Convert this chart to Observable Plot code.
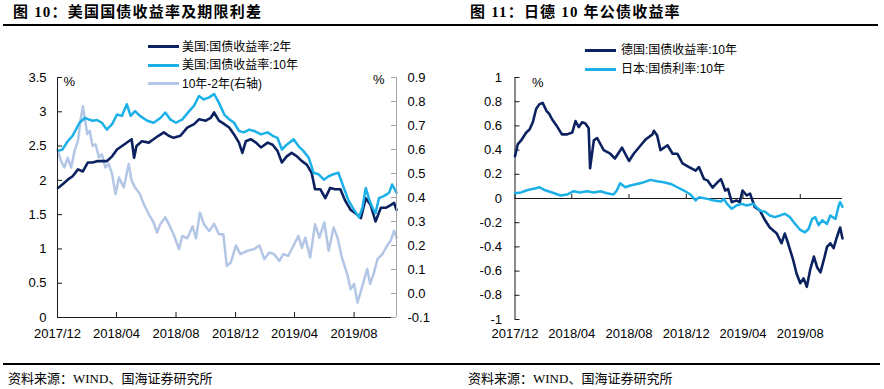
<!DOCTYPE html>
<html>
<head>
<meta charset="utf-8">
<script src="https://cdn.jsdelivr.net/npm/d3@7"></script>
<script src="https://cdn.jsdelivr.net/npm/@observablehq/plot@0.6"></script>
<style>
  html, body { margin: 0; padding: 0; background: #fff; }
  body { width: 884px; height: 389px; position: relative; overflow: hidden;
         font-family: "Liberation Sans", "Noto Sans CJK SC", sans-serif; color: #000; }
  .abs { position: absolute; }
  .title { position: absolute; font-family: "Liberation Serif", "Noto Sans CJK SC", serif; font-weight: bold;
           font-size: 15px; letter-spacing: 1.2px; line-height: 1; white-space: nowrap; color: #000; }
  .hr { position: absolute; height: 2px; background: #000; }
  .src { position: absolute; font-family: "Liberation Serif", "Noto Sans CJK SC", serif; font-size: 13px;
         line-height: 1; white-space: nowrap; color: #000; }
  .legline { position: absolute; height: 3px; width: 31px; }
  .legtext { position: absolute; font-size: 12px; line-height: 1; white-space: nowrap; color: #000;
             font-family: "Liberation Sans", "Noto Sans CJK SC", sans-serif; transform: translateY(-50%); }
</style>
</head>
<body>
<div id="c1" class="abs" style="left:0;top:0"></div>
<div id="c2" class="abs" style="left:440px;top:0"></div>

<div class="title" style="left:13px;top:5px">图 10：美国国债收益率及期限利差</div>
<div class="title" style="left:470px;top:5px">图 11：日德 10 年公债收益率</div>
<div class="hr" style="left:3px;top:24px;width:875px"></div>

<div class="legline" style="left:148px;top:45px;background:#0c2260"></div>
<div class="legtext" style="left:182px;top:46.5px">美国:国债收益率:2年</div>
<div class="legline" style="left:148px;top:63.5px;background:#1cb0e8"></div>
<div class="legtext" style="left:182px;top:65px">美国:国债收益率:10年</div>
<div class="legline" style="left:148px;top:82px;background:#b3c6e6"></div>
<div class="legtext" style="left:182px;top:83.5px">10年-2年(右轴)</div>

<div class="legline" style="left:585px;top:48.5px;background:#0c2260"></div>
<div class="legtext" style="left:621px;top:50px">德国:国债收益率:10年</div>
<div class="legline" style="left:585px;top:67.5px;background:#1cb0e8"></div>
<div class="legtext" style="left:621px;top:69px">日本:国债利率:10年</div>

<div class="hr" style="left:3px;top:363px;width:877px"></div>
<div class="src" style="left:8px;top:372px">资料来源：WIND、国海证券研究所</div>
<div class="src" style="left:468px;top:372px">资料来源：WIND、国海证券研究所</div>

<script>
// ---------- tick labels ----------
const xTickLabels = ["2017/12", "2018/04", "2018/08", "2018/12", "2019/04", "2019/08"];
const leftYTicks = [0, 0.5, 1, 1.5, 2, 2.5, 3, 3.5];
const rightYTicks = [-0.1, 0, 0.1, 0.2, 0.3, 0.4, 0.5, 0.6, 0.7, 0.8, 0.9];
const deJpYTicks = [-1, -0.8, -0.6, -0.4, -0.2, 0, 0.2, 0.4, 0.6, 0.8, 1];

// ---------- Figure 10: US Treasury yields ----------
const us2Dates = ["2017-12-02","2017-12-11","2017-12-22","2018-01-01","2018-01-12","2018-01-22","2018-02-01","2018-02-11","2018-02-20","2018-03-02","2018-03-12","2018-03-23","2018-04-02","2018-04-16","2018-04-26","2018-05-02","2018-05-07","2018-05-12","2018-05-23","2018-06-06","2018-06-16","2018-06-26","2018-07-07","2018-07-17","2018-07-27","2018-08-10","2018-08-24","2018-09-07","2018-09-17","2018-10-01","2018-10-11","2018-10-18","2018-10-28","2018-11-08","2018-11-18","2018-11-28","2018-12-08","2018-12-15","2018-12-22","2019-01-01","2019-01-12","2019-01-22","2019-02-05","2019-02-15","2019-02-25","2019-03-06","2019-03-16","2019-03-26","2019-04-06","2019-04-16","2019-04-26","2019-05-06","2019-05-13","2019-05-24","2019-06-03","2019-06-13","2019-06-23","2019-07-04","2019-07-14","2019-07-25","2019-08-04","2019-08-15","2019-08-25","2019-09-04","2019-09-14","2019-09-25","2019-10-05","2019-10-15","2019-10-22","2019-10-27"];
const us2Values = [1.89,1.94,2.01,2.06,2.16,2.13,2.26,2.26,2.28,2.28,2.28,2.35,2.45,2.52,2.57,2.60,2.33,2.50,2.57,2.55,2.60,2.65,2.70,2.65,2.62,2.65,2.77,2.82,2.89,2.87,2.91,2.99,2.87,2.82,2.77,2.67,2.55,2.40,2.57,2.60,2.55,2.48,2.55,2.52,2.43,2.26,2.35,2.40,2.35,2.28,2.23,2.11,1.87,1.87,1.74,1.89,1.87,1.87,1.70,1.57,1.52,1.45,1.74,1.64,1.40,1.60,1.60,1.64,1.67,1.57];

const us10Dates = ["2017-12-02","2017-12-11","2017-12-22","2018-01-01","2018-01-15","2018-01-26","2018-02-03","2018-02-11","2018-02-20","2018-03-02","2018-03-12","2018-03-23","2018-04-02","2018-04-12","2018-04-22","2018-04-30","2018-05-09","2018-05-19","2018-06-03","2018-06-16","2018-06-30","2018-07-10","2018-07-20","2018-08-01","2018-08-14","2018-08-28","2018-09-07","2018-09-17","2018-09-27","2018-10-08","2018-10-18","2018-10-28","2018-11-08","2018-11-18","2018-11-28","2018-12-08","2018-12-18","2018-12-29","2019-01-08","2019-01-22","2019-02-05","2019-02-15","2019-02-25","2019-03-06","2019-03-16","2019-03-30","2019-04-09","2019-04-19","2019-04-30","2019-05-10","2019-05-20","2019-05-31","2019-06-10","2019-06-20","2019-06-30","2019-07-11","2019-07-21","2019-08-01","2019-08-11","2019-08-18","2019-08-25","2019-09-01","2019-09-08","2019-09-14","2019-09-21","2019-10-01","2019-10-12","2019-10-18","2019-10-27"];
const us10Values = [2.43,2.45,2.57,2.65,2.84,2.91,2.89,2.87,2.88,2.84,2.74,2.82,2.96,2.94,3.11,2.94,3.01,2.94,2.87,2.84,2.91,2.99,2.89,2.84,2.89,3.01,3.09,3.23,3.18,3.21,3.26,3.13,2.96,2.89,2.84,2.72,2.70,2.74,2.72,2.67,2.70,2.65,2.62,2.45,2.52,2.60,2.50,2.43,2.33,2.11,2.09,2.01,2.06,2.09,2.11,1.89,1.70,1.57,1.46,1.60,1.89,1.72,1.60,1.52,1.74,1.77,1.82,1.94,1.82];

const spreadDates = ["2017-12-01","2017-12-08","2017-12-15","2017-12-22","2017-12-29","2018-01-05","2018-01-12","2018-01-17","2018-01-22","2018-01-26","2018-01-31","2018-02-05","2018-02-11","2018-02-17","2018-02-24","2018-03-02","2018-03-09","2018-03-16","2018-03-23","2018-03-30","2018-04-06","2018-04-16","2018-04-26","2018-05-02","2018-05-09","2018-05-19","2018-05-27","2018-06-06","2018-06-16","2018-06-23","2018-06-30","2018-07-10","2018-07-17","2018-07-27","2018-08-07","2018-08-14","2018-08-24","2018-09-04","2018-09-11","2018-09-19","2018-09-27","2018-10-08","2018-10-18","2018-10-28","2018-11-06","2018-11-13","2018-11-21","2018-12-02","2018-12-11","2018-12-25","2019-01-08","2019-01-19","2019-01-29","2019-02-08","2019-02-18","2019-03-01","2019-03-09","2019-03-19","2019-03-30","2019-04-09","2019-04-16","2019-04-23","2019-05-03","2019-05-13","2019-05-22","2019-06-01","2019-06-10","2019-06-20","2019-06-28","2019-07-07","2019-07-18","2019-07-25","2019-08-01","2019-08-08","2019-08-15","2019-08-21","2019-08-28","2019-09-03","2019-09-11","2019-09-18","2019-09-28","2019-10-08","2019-10-15","2019-10-22","2019-10-27"];
const spreadValues = [0.60,0.553,0.525,0.565,0.525,0.595,0.636,0.72,0.78,0.73,0.664,0.678,0.615,0.622,0.567,0.58,0.525,0.54,0.497,0.414,0.483,0.442,0.54,0.47,0.442,0.414,0.372,0.331,0.296,0.254,0.29,0.317,0.29,0.247,0.185,0.24,0.23,0.28,0.23,0.337,0.29,0.26,0.29,0.247,0.247,0.115,0.129,0.20,0.164,0.178,0.185,0.20,0.143,0.171,0.164,0.136,0.164,0.157,0.20,0.24,0.19,0.233,0.15,0.289,0.233,0.296,0.178,0.275,0.233,0.15,0.081,0.018,0.04,-0.038,0.011,0.053,0.102,0.04,0.088,0.143,0.164,0.20,0.22,0.261,0.233];

// ---------- Figure 11: Germany / Japan 10Y ----------
const deDates = ["2017-12-01","2017-12-07","2017-12-14","2017-12-25","2018-01-01","2018-01-08","2018-01-15","2018-01-22","2018-01-29","2018-02-06","2018-02-12","2018-02-18","2018-02-28","2018-03-11","2018-03-22","2018-04-02","2018-04-09","2018-04-16","2018-04-23","2018-04-30","2018-05-07","2018-05-10","2018-05-18","2018-05-25","2018-06-08","2018-06-22","2018-07-02","2018-07-17","2018-08-01","2018-08-11","2018-08-26","2018-09-06","2018-09-20","2018-09-23","2018-09-30","2018-10-07","2018-10-22","2018-11-02","2018-11-12","2018-11-23","2018-12-07","2018-12-21","2018-12-28","2019-01-08","2019-01-15","2019-01-26","2019-02-06","2019-02-13","2019-02-22","2019-02-28","2019-03-08","2019-03-18","2019-03-25","2019-03-31","2019-04-09","2019-04-16","2019-04-26","2019-05-07","2019-05-18","2019-05-28","2019-06-12","2019-06-22","2019-06-29","2019-07-06","2019-07-17","2019-07-24","2019-08-01","2019-08-08","2019-08-15","2019-08-22","2019-08-30","2019-09-06","2019-09-13","2019-09-20","2019-09-27","2019-10-04","2019-10-11","2019-10-18","2019-10-25","2019-10-30"];
const deValues = [0.35,0.45,0.48,0.545,0.57,0.63,0.74,0.78,0.79,0.725,0.70,0.655,0.60,0.53,0.53,0.545,0.64,0.59,0.63,0.62,0.58,0.25,0.48,0.50,0.40,0.37,0.33,0.42,0.31,0.37,0.44,0.49,0.53,0.56,0.52,0.40,0.44,0.37,0.37,0.29,0.26,0.23,0.26,0.16,0.15,0.09,0.135,0.16,0.066,0.08,-0.03,-0.016,-0.03,0.066,0.025,0.04,-0.07,-0.10,-0.18,-0.24,-0.29,-0.37,-0.29,-0.37,-0.51,-0.62,-0.70,-0.66,-0.73,-0.59,-0.48,-0.57,-0.61,-0.51,-0.40,-0.37,-0.41,-0.32,-0.24,-0.33];

const jpDates = ["2017-12-01","2017-12-14","2017-12-28","2018-01-15","2018-01-22","2018-02-02","2018-02-18","2018-03-08","2018-03-22","2018-04-05","2018-04-19","2018-05-03","2018-05-18","2018-06-01","2018-06-15","2018-06-29","2018-07-06","2018-07-13","2018-07-24","2018-08-04","2018-08-18","2018-09-02","2018-09-16","2018-09-30","2018-10-14","2018-10-29","2018-11-12","2018-11-26","2018-12-10","2018-12-21","2018-12-28","2019-01-15","2019-01-29","2019-02-13","2019-02-19","2019-02-26","2019-03-08","2019-03-18","2019-03-29","2019-04-09","2019-04-23","2019-05-07","2019-05-18","2019-05-28","2019-06-08","2019-06-19","2019-06-29","2019-07-10","2019-07-21","2019-08-01","2019-08-11","2019-08-19","2019-08-26","2019-09-02","2019-09-09","2019-09-17","2019-09-27","2019-10-04","2019-10-15","2019-10-22","2019-10-25","2019-10-30"];
const jpValues = [0.044,0.05,0.07,0.085,0.093,0.07,0.05,0.025,0.033,0.06,0.05,0.06,0.05,0.06,0.044,0.033,0.066,0.126,0.093,0.107,0.12,0.135,0.154,0.143,0.135,0.12,0.093,0.066,0.033,-0.016,0.01,-0.003,-0.016,-0.025,-0.003,-0.044,-0.085,-0.058,-0.044,-0.058,-0.044,-0.10,-0.11,-0.14,-0.154,-0.14,-0.126,-0.154,-0.21,-0.26,-0.28,-0.25,-0.17,-0.154,-0.22,-0.18,-0.21,-0.14,-0.17,-0.058,-0.03,-0.07];

// ---------- helpers ----------
const parseDay = d3.utcParse("%Y-%m-%d");
const parseMonth = d3.utcParse("%Y/%m");
const fmtMonth = d3.utcFormat("%Y/%m");
const xTickDates = xTickLabels.map(parseMonth);
const toRows = (dates, values) => dates.map((d, i) => ({date: parseDay(d), value: values[i]}));

const us2 = toRows(us2Dates, us2Values);
const us10 = toRows(us10Dates, us10Values);
const spread = toRows(spreadDates, spreadValues);
const de = toRows(deDates, deValues);
const jp = toRows(jpDates, jpValues);

const NAVY = "#0c2260", CYAN = "#1cb0e8", LAV = "#b3c6e6", AXIS = "#1a1a1a", GRAY = "#a6a6a6";
const fontStyle = {background: "transparent", overflow: "visible", fontFamily: "Liberation Sans, Arial, sans-serif", fontSize: "13px", color: "#000"};

// ---------- chart 1 ----------
{
  const W = 440, H = 350, mL = 57, mR = 44, mT = 77, mB = 33;
  const plotW = W - mL - mR, plotH = H - mT - mB;
  const xDomain = [parseDay("2017-12-01"), parseDay("2019-10-27")];
  const toLeft = s => (s + 0.1) * 3.5;           // secondary axis -> primary axis units
  const rightPos = rightYTicks.map(toLeft);
  const rightLabel = new Map(rightPos.map((p, i) => [p, rightYTicks[i].toFixed(1)]));
  const chart = Plot.plot({
    width: W, height: H, marginLeft: mL, marginRight: mR, marginTop: mT, marginBottom: mB,
    style: fontStyle,
    x: {type: "utc", domain: xDomain, label: null},
    y: {domain: [0, 3.5], label: null},
    marks: [
      Plot.line(spread, {x: "date", y: d => toLeft(d.value), stroke: LAV, strokeWidth: 2.5, curve: "linear"}),
      Plot.line(us2, {x: "date", y: "value", stroke: NAVY, strokeWidth: 2.6}),
      Plot.line(us10, {x: "date", y: "value", stroke: CYAN, strokeWidth: 2.5}),
      Plot.ruleX([xDomain[0]], {stroke: AXIS}),
      Plot.ruleX([xDomain[1]], {stroke: GRAY}),
      Plot.ruleY([0], {stroke: AXIS}),
      Plot.tickY(leftYTicks, {y: d => d, stroke: AXIS, insetRight: plotW - 5}),
      Plot.tickY(rightPos, {y: d => d, stroke: GRAY, insetLeft: plotW - 5}),
      Plot.tickX(xTickDates, {x: d => d, stroke: AXIS, insetTop: plotH - 5}),
      Plot.axisY(leftYTicks, {anchor: "left", tickSize: 0, tickPadding: 11, tickFormat: d => String(d), label: null}),
      Plot.axisY(rightPos, {anchor: "right", tickSize: 0, tickPadding: 11, tickFormat: d => rightLabel.get(d), label: null}),
      Plot.axisX(xTickDates, {anchor: "bottom", tickSize: 0, tickPadding: 11, tickFormat: fmtMonth, label: null}),
      Plot.text(["%"], {frameAnchor: "top-left", textAnchor: "start", lineAnchor: "top", dx: 6, dy: -1, text: d => d}),
      Plot.text(["%"], {frameAnchor: "top-right", textAnchor: "end", lineAnchor: "top", dx: -12, dy: -3, text: d => d})
    ]
  });
  document.getElementById("c1").append(chart);
}

// ---------- chart 2 ----------
{
  const W = 444, H = 350, mL = 74.5, mR = 42, mT = 77, mB = 31;
  const plotW = W - mL - mR, plotH = H - mT - mB;
  const xDomain = [parseDay("2017-12-01"), parseDay("2019-10-30")];
  const chart = Plot.plot({
    width: W, height: H, marginLeft: mL, marginRight: mR, marginTop: mT, marginBottom: mB,
    style: fontStyle,
    x: {type: "utc", domain: xDomain, label: null},
    y: {domain: [-1, 1], label: null},
    marks: [
      Plot.ruleX([xDomain[0]], {stroke: AXIS}),
      Plot.ruleY([0], {stroke: AXIS}),
      Plot.tickY(deJpYTicks, {y: d => d, stroke: AXIS, insetRight: plotW - 5}),
      Plot.tickX(xTickDates, {x: d => d, stroke: AXIS, insetTop: plotH / 2 - 4, insetBottom: plotH / 2}),
      Plot.line(de, {x: "date", y: "value", stroke: NAVY, strokeWidth: 2.6}),
      Plot.line(jp, {x: "date", y: "value", stroke: CYAN, strokeWidth: 2.5}),
      Plot.axisY(deJpYTicks, {anchor: "left", tickSize: 0, tickPadding: 13, tickFormat: d => String(+d.toFixed(1)), label: null}),
      Plot.axisX(xTickDates, {anchor: "bottom", tickSize: 0, tickPadding: 9, tickFormat: fmtMonth, label: null}),
      Plot.text(["%"], {frameAnchor: "top-left", textAnchor: "start", lineAnchor: "top", dx: 17, dy: 0, text: d => d})
    ]
  });
  document.getElementById("c2").append(chart);
}
</script>
</body>
</html>
